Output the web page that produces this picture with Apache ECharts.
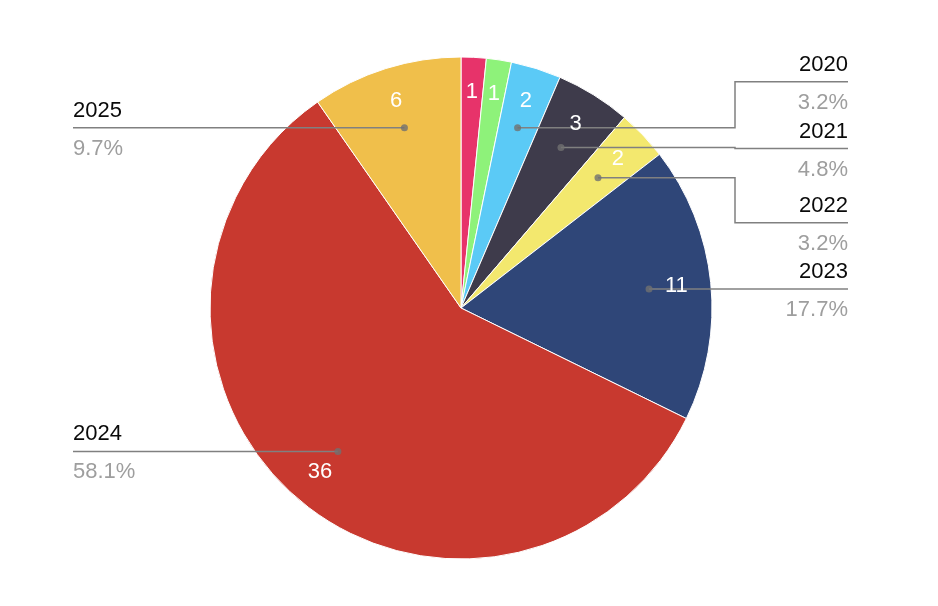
<!DOCTYPE html>
<html>
<head>
<meta charset="utf-8">
<script src="https://cdn.jsdelivr.net/npm/echarts@6/dist/echarts.min.js"></script>
<style>
html,body{margin:0;padding:0;background:#fff;}
#chart{width:938px;height:606px;}
</style>
</head>
<body>
<div id="chart"></div>
<script>
// ---- data ----
const categories = ['2018', '2019', '2020', '2021', '2022', '2023', '2024', '2025'];
const values = [1, 1, 2, 3, 2, 11, 36, 6];
const showName = [false, false, true, true, true, true, true, true];

// ---- style / layout ----
const colors = ['#e7336a', '#8ef27a', '#5bcaf6', '#3e3b4b', '#f3e86e', '#2f4678', '#c8392f', '#f0bf4b'];
const CX = 461, CY = 308, R = 251;
const DOT_R = 189;          // radius of leader-line start dots
const VAL_R0 = 176;         // value label ring (inner radius)
const RIGHT_X = 848, LEFT_X = 73, ELBOW_X = 735;
const TEXT_DY = 2;
const leaderShift = { '2020': -46, '2021': 1, '2022': 45 };
const FONT = '"Liberation Sans", Arial, sans-serif';

const total = values.reduce((a, b) => a + b, 0);
const pieData = categories.map((c, i) => ({ name: c, value: values[i] }));

// cumulative mid values of each slice
const midVals = [];
let cum = 0;
values.forEach((v) => { midVals.push(cum + v / 2); cum += v; });

// dot positions through polar axis (angle = cumulative mid value)
const dotData = [];
values.forEach((v, i) => { if (showName[i]) dotData.push([DOT_R, midVals[i]]); });

function startPoint(i) {
  const th = midVals[i] / total * Math.PI * 2;
  return [CX + DOT_R * Math.sin(th), CY - DOT_R * Math.cos(th)];
}

const chart = echarts.init(document.getElementById('chart'));
chart.setOption({
  backgroundColor: '#fff',
  animation: false,
  polar: { center: [CX, CY], radius: R },
  angleAxis: { type: 'value', min: 0, max: total, startAngle: 90, clockwise: true, show: false },
  radiusAxis: { type: 'value', min: 0, max: R, show: false },
  series: [
    {
      type: 'pie',
      center: [CX, CY],
      radius: [0, R],
      startAngle: 90,
      clockwise: true,
      silent: true,
      z: 1,
      label: { show: false },
      labelLine: { show: false },
      itemStyle: { borderColor: '#fff', borderWidth: 1 },
      color: colors,
      data: pieData
    },
    {
      // value labels
      type: 'pie',
      center: [CX, CY],
      radius: [VAL_R0, R],
      startAngle: 90,
      clockwise: true,
      silent: true,
      z: 3,
      itemStyle: { color: 'rgba(0,0,0,0)' },
      label: {
        show: true, position: 'inside', formatter: '{c}',
        color: '#fff', fontSize: 22, fontFamily: FONT
      },
      labelLine: { show: false },
      data: pieData
    },
    {
      // name / percent labels with leader lines
      type: 'pie',
      center: [CX, CY],
      radius: [0, DOT_R],
      startAngle: 90,
      clockwise: true,
      silent: true,
      z: 2,
      avoidLabelOverlap: false,
      itemStyle: { color: 'rgba(0,0,0,0)' },
      label: {
        show: true,
        position: 'outside',
        formatter: function (p) {
          return '{n|' + p.name + '}\n{p|' + p.percent.toFixed(1) + '%}';
        },
        rich: {
          n: { color: '#0a0a0a', fontSize: 22, fontFamily: FONT, lineHeight: 38 },
          p: { color: '#9e9e9e', fontSize: 22, fontFamily: FONT, lineHeight: 38 }
        }
      },
      labelLine: {
        show: true, length: 5, length2: 10,
        lineStyle: { color: '#808080', width: 1.5 }
      },
      labelLayout: function (params) {
        const i = params.dataIndex;
        const name = categories[i];
        const start = startPoint(i);
        const right = start[0] > CX;
        const ly = start[1] + (leaderShift[name] || 0);
        let pts;
        if (right) {
          if (leaderShift[name]) {
            pts = [start, [ELBOW_X, start[1]], [ELBOW_X, ly], [RIGHT_X, ly]];
          } else {
            pts = [start, [RIGHT_X, ly]];
          }
          return { x: RIGHT_X, y: ly + TEXT_DY, align: 'right', verticalAlign: 'middle', labelLinePoints: pts };
        } else {
          pts = [start, [LEFT_X, ly]];
          return { x: LEFT_X, y: ly + TEXT_DY, align: 'left', verticalAlign: 'middle', labelLinePoints: pts };
        }
      },
      data: pieData.map((d, i) => showName[i] ? d : Object.assign({}, d, { label: { show: false }, labelLine: { show: false } }))
    },
    {
      type: 'scatter',
      coordinateSystem: 'polar',
      symbol: 'circle',
      symbolSize: 7,
      silent: true,
      z: 4,
      itemStyle: { color: '#707070' },
      data: dotData
    }
  ]
});
</script>
</body>
</html>
